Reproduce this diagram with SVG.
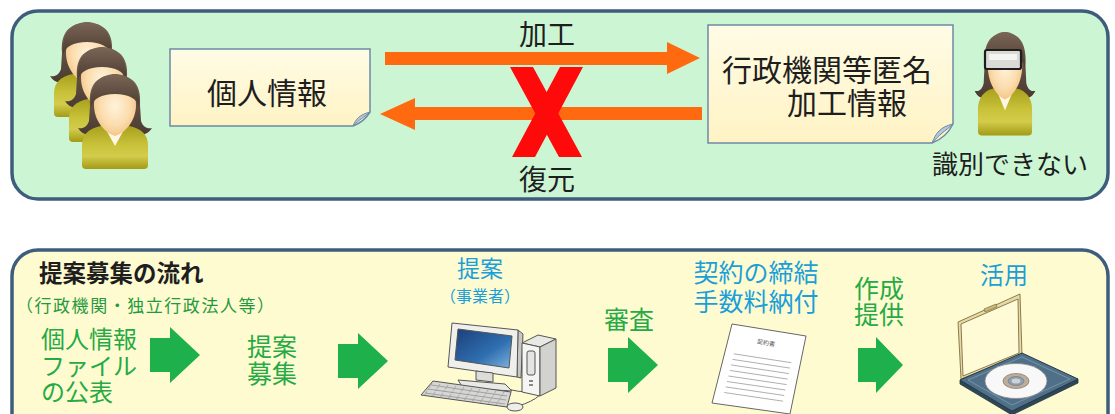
<svg xmlns="http://www.w3.org/2000/svg" xmlns:xlink="http://www.w3.org/1999/xlink" width="1115" height="414" viewBox="0 0 1115 414">
  <style>
    .jp { font-family: "Noto Sans CJK JP", "Noto Sans", sans-serif; dominant-baseline: central; }
    .dark { fill: #1e1e1e; }
    .grn { fill: #25aa45; }
    .blu { fill: #1b9fd9; }
    .panel { stroke: #3e5d7d; stroke-width: 3.5; }
    .note { fill: url(#noteGrad); stroke: #6d89a6; stroke-width: 1.5; }
    .fold { fill: #b6c8d8; stroke: #6d89a6; stroke-width: 1; }
    .step { fill: #1db04b; }
    .ol { stroke: #555; stroke-width: 1; stroke-linejoin: round; }
    .docline { stroke: #9a9a9a; stroke-width: 0.8; }
  </style>
  <defs>
    <linearGradient id="noteGrad" x1="0" y1="0" x2="0" y2="1">
      <stop offset="0" stop-color="#fffce6"/>
      <stop offset="1" stop-color="#fff3c4"/>
    </linearGradient>
    <linearGradient id="hairGrad" x1="0" y1="0" x2="0" y2="1">
      <stop offset="0" stop-color="#7b6656"/>
      <stop offset="1" stop-color="#4a3a30"/>
    </linearGradient>
    <radialGradient id="faceGrad" cx="0.5" cy="0.45" r="0.6">
      <stop offset="0" stop-color="#fff3dc"/>
      <stop offset="0.6" stop-color="#fbdcad"/>
      <stop offset="1" stop-color="#f2c07e"/>
    </radialGradient>
    <linearGradient id="bodyGrad" x1="0" y1="0" x2="0" y2="1">
      <stop offset="0" stop-color="#a9a11c"/>
      <stop offset="0.45" stop-color="#c9c23a"/>
      <stop offset="0.7" stop-color="#d3cc4c"/>
      <stop offset="1" stop-color="#a39b16"/>
    </linearGradient>
    <linearGradient id="screenGrad" x1="0" y1="0" x2="1" y2="1">
      <stop offset="0" stop-color="#1c3f7a"/>
      <stop offset="0.6" stop-color="#2f6fb0"/>
      <stop offset="1" stop-color="#7fb3de"/>
    </linearGradient>

    <!-- person icon: head top at (0,0), centred on x=0 -->
    <g id="person">
      <path fill="url(#hairGrad)" d="M-25,30 C-27,6 -14,0 0,0 C14,0 27,6 25,30 L26,46 C28,52 32,54 37,53 C33,60 26,61 20,57 L-20,57 C-26,61 -33,60 -37,53 C-32,54 -28,52 -26,46 Z"/>
      <path fill="url(#bodyGrad)" d="M-33,90 L-33,70 C-33,60 -26,53 -14,51 L14,51 C26,53 33,60 33,70 L33,90 Q33,94 29,94 L-29,94 Q-33,94 -33,90 Z"/>
      <path fill="#fff6e4" d="M-11,51 L11,51 L0,71 Z"/>
      <path fill="url(#faceGrad)" d="M-21,30 C-21,12 -11,7 0,7 C11,7 21,12 21,30 C21,46 10,58 0,61 C-10,58 -21,46 -21,30 Z"/>
      <path fill="url(#hairGrad)" d="M-24,32 C-26,7 -12,-1 0,-1 C12,-1 26,7 24,32 C22,24 14,19 0,19 C-14,19 -22,24 -24,32 Z"/>
    </g>

    <!-- green step arrow, tail at (0,0) centre line -->
    <path id="stepArrow" d="M0,-17 H20 V-28 L50,0 L20,28 V17 H0 Z"/>
  </defs>

  <!-- background panels -->
  <rect x="12" y="11" width="1096" height="188" rx="26" fill="#ccf6d3" class="panel"/>
  <rect x="12" y="250" width="1096" height="200" rx="26" fill="#fffbd1" class="panel"/>

  <!-- ===== anonymisation panel ===== -->
  <g id="data-subjects">
    <use xlink:href="#person" transform="translate(87,23)"/>
    <use xlink:href="#person" transform="translate(102,48)"/>
    <use xlink:href="#person" transform="translate(115,75)"/>
  </g>

  <g id="personal-info">
    <path class="note" d="M170,49 H370 V112 Q364,122 353,126 H170 Z"/>
    <path class="fold" d="M353,126 C356,119 359,115 370,112 C363,118 360,119 353,126 Z"/>
    <text class="jp dark" x="267" y="91" font-size="30" text-anchor="middle">個人情報</text>
  </g>

  <g id="anonymised-info">
    <path class="note" d="M708,25 H953 V124 Q946,138 932,143 H708 Z"/>
    <path class="fold" d="M932,143 C936,133 940,127 953,124 C944,132 940,134 932,143 Z"/>
    <text class="jp dark" font-size="30" text-anchor="middle"><tspan x="827" y="68">行政機関等匿名</tspan><tspan x="847" y="101">加工情報</tspan></text>
  </g>

  <g id="unidentifiable-person">
    <use xlink:href="#person" transform="translate(1005,33) scale(0.82,1.09)"/>
    <rect x="985" y="50" width="36" height="19" rx="2" fill="#d9d9d6" stroke="#1e1e1e" stroke-width="2.2"/>
    <rect x="989" y="54" width="28" height="6" fill="#f4f4f2"/>
    <text class="jp dark" x="1010" y="162" font-size="26" text-anchor="middle">識別できない</text>
  </g>

  <g id="connectors">
    <!-- processing: personal info to anonymised info -->
    <path fill="#ff6a10" d="M385,52 H667 V42 L700,58 L667,74 V65 H385 Z"/>
    <text class="jp dark" x="547" y="33" font-size="28" text-anchor="middle">加工</text>
    <!-- restoration: not possible -->
    <path fill="#ff6a10" d="M702,107 H415 V98 L380,114 L415,130 V120 H702 Z"/>
    <text class="jp dark" x="547" y="178" font-size="28" text-anchor="middle">復元</text>
    <g fill="#ff0a0a">
      <polygon points="510,67 533,67 582,157 559,157"/>
      <polygon points="560,67 583,67 535,157 512,157"/>
    </g>

    <!-- proposal flow step arrows -->
    <g class="step">
      <use xlink:href="#stepArrow" transform="translate(150,355)"/>
      <use xlink:href="#stepArrow" transform="translate(338,361)"/>
      <use xlink:href="#stepArrow" transform="translate(608,365)"/>
      <use xlink:href="#stepArrow" transform="translate(858,365) scale(0.9,1)"/>
    </g>
  </g>

  <!-- ===== proposal flow panel ===== -->
  <g id="flow-title">
    <text class="jp dark" x="39" y="272" font-size="23.5" font-weight="bold">提案募集の流れ</text>
    <text class="jp" x="16" y="304" font-size="17" fill="#1f9a3e" textLength="258" lengthAdjust="spacing">（行政機関・独立行政法人等）</text>
  </g>

  <g id="step-publish">
    <text class="jp grn" font-size="24"><tspan x="41" y="337">個人情報</tspan><tspan x="41" y="364">ファイル</tspan><tspan x="41" y="390">の公表</tspan></text>
  </g>

  <g id="step-call">
    <text class="jp grn" font-size="25" text-anchor="middle"><tspan x="272" y="345">提案</tspan><tspan x="272" y="372">募集</tspan></text>
  </g>

  <g id="step-proposal">
    <text class="jp blu" text-anchor="middle"><tspan x="480" y="267" font-size="23">提案</tspan><tspan x="480" y="295" font-size="16">（事業者）</tspan></text>
    <!-- desktop computer -->
    <g class="ol">
      <path fill="none" d="M505,388 Q520,393 528,391"/>
      <path fill="none" d="M518,406 Q532,402 540,395"/>
      <polygon fill="#c8c8c4" points="518,330 523,334 521,378 517,377"/>
      <polygon fill="#efefeb" points="452,323 518,330 517,377 448,367"/>
      <polygon fill="url(#screenGrad)" points="458,329 512,336 509,368 455,360"/>
      <polygon fill="#dcdcd8" points="476,371 493,373 493,382 476,380"/>
      <polygon fill="#e9e9e5" points="458,380 505,384 512,391 463,388"/>
      <polygon fill="#e8e8e4" points="522,343 538,335 556,339 540,347"/>
      <polygon fill="#f5f5f1" points="522,343 540,347 540,396 522,392"/>
      <polygon fill="#d2d2ce" points="540,347 556,339 556,388 540,396"/>
      <rect x="527" y="351" width="8" height="24" rx="2" fill="#e4e4e0"/>
      <rect x="529" y="380" width="4" height="2" fill="#888" stroke="none"/>
      <rect x="529" y="384" width="4" height="2" fill="#888" stroke="none"/>
      <polygon fill="#d6d6d4" points="433,381 511,392 507,407 421,395"/>
      <ellipse cx="515" cy="407" rx="8" ry="4" fill="#eeeeec"/>
    </g>
    <g stroke="#8a8a8a" stroke-width="0.7" fill="none">
      <path d="M431,385 L507,396"/>
      <path d="M428,389 L506,400"/>
      <path d="M425,393 L505,404"/>
      <path d="M432,383 L424,396 M440,384 L432,397 M448,385 L440,398 M456,386 L448,399 M464,387 L456,400 M472,388 L464,401 M480,389 L472,402 M488,390 L480,403 M496,391 L488,404 M504,392 L496,405" stroke-dasharray="2 1.2"/>
    </g>
  </g>

  <g id="step-review">
    <text class="jp grn" x="629" y="318" font-size="25" text-anchor="middle">審査</text>
  </g>

  <g id="step-contract">
    <text class="jp blu" font-size="25" text-anchor="middle"><tspan x="756" y="271">契約の締結</tspan><tspan x="756" y="300">手数料納付</tspan></text>
    <!-- contract sheet -->
    <polygon points="732,324 806,336 790,414 712,403" fill="#ffffff" stroke="#666" stroke-width="1" stroke-linejoin="round"/>
    <text x="766" y="345" font-size="6" fill="#555" text-anchor="middle" font-family="Noto Sans CJK JP, sans-serif" transform="rotate(9 766 343)">契約書</text>
    <g class="docline">
      <line x1="733.8" y1="353.8" x2="791.2" y2="362.7"/>
      <line x1="732.5" y1="359.4" x2="790.0" y2="368.1"/>
      <line x1="731.1" y1="364.9" x2="788.9" y2="373.6"/>
      <line x1="729.8" y1="370.4" x2="787.7" y2="379.1"/>
      <line x1="728.4" y1="376.0" x2="786.6" y2="384.6"/>
      <line x1="727.0" y1="381.5" x2="785.4" y2="390.0"/>
      <line x1="725.7" y1="386.9" x2="784.2" y2="395.5"/>
      <line x1="724.3" y1="392.5" x2="783.1" y2="401.2"/>
    </g>
  </g>

  <g id="step-provide">
    <text class="jp grn" font-size="25" text-anchor="middle"><tspan x="879" y="287">作成</tspan><tspan x="879" y="313">提供</tspan></text>
  </g>

  <g id="step-use">
    <text class="jp blu" x="1004" y="273" font-size="24" text-anchor="middle">活用</text>
    <!-- open disc case -->
    <polygon points="958,322 1020,294 1022,355 961,379" fill="#e6d9a4" stroke="#6f6034" stroke-width="0.8" stroke-linejoin="round"/>
    <polygon points="961,324 1018,299 1019,353 963,376" fill="#fffbd6" stroke="#6f6034" stroke-width="0.8" stroke-linejoin="round"/>
    <polygon points="984,309 996,304 997,307 985,312" fill="#cbb978" stroke="#6f6034" stroke-width="0.6"/>
    <polygon points="960,380 1012,411 1078,379 1078,383 1012,415 960,384" fill="#2e4757" stroke="#22343f" stroke-width="0.8"/>
    <polygon points="960,380 1022,353 1078,379 1012,411" fill="#4f7088" stroke="#263b48" stroke-width="1" stroke-linejoin="round"/>
    <polygon points="968,380 1022,357 1070,379 1012,405" fill="none" stroke="#7f9cb0" stroke-width="0.8"/>
    <ellipse cx="1016" cy="381" rx="31" ry="17.5" fill="#f8f8f8" stroke="#8a8a8a" stroke-width="0.8"/>
    <ellipse cx="1016" cy="381" rx="13" ry="7.5" fill="#bcae9a" stroke="#7d7466" stroke-width="0.7"/>
    <ellipse cx="1016" cy="381" rx="8" ry="4.5" fill="#8f9fae" stroke="#6a7682" stroke-width="0.6"/>
    <ellipse cx="1016" cy="381" rx="4.5" ry="2.5" fill="#cdd2d6"/>
  </g>
</svg>
